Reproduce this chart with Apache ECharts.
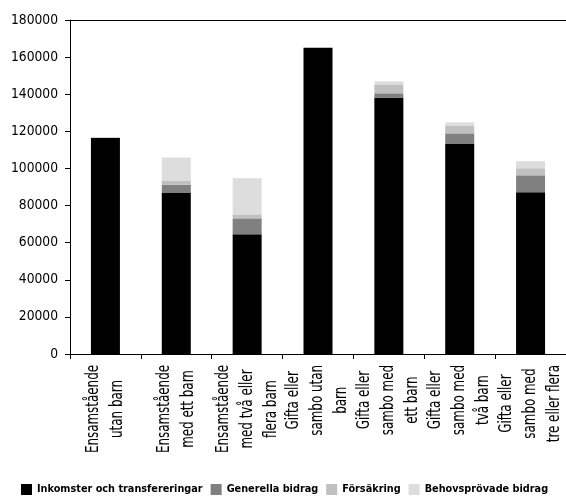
<!DOCTYPE html>
<html>
<head>
<meta charset="utf-8">
<style>
  html, body { margin: 0; padding: 0; background: #fff; }
  #chart { width: 566px; height: 500px; }
</style>
<script src="https://cdn.jsdelivr.net/npm/echarts@6/dist/echarts.min.js"></script>
</head>
<body>
<div id="chart"></div>
<script>
// Household groups (x axis), one line per array entry
const categories = [
  ['Ensamstående', 'utan barn'],
  ['Ensamstående', 'med ett barn'],
  ['Ensamstående', 'med två eller', 'flera barn'],
  ['Gifta eller', 'sambo utan', 'barn'],
  ['Gifta eller', 'sambo med', 'ett barn'],
  ['Gifta eller', 'sambo med', 'två barn'],
  ['Gifta eller', 'sambo med', 'tre eller flera']
];

// Stacked components, kronor per year
const inkomster   = [116500, 87000, 64500, 165000, 138000, 113400, 87200];
const generella   = [0,      4300,  8600,  0,      2500,   5500,   9100];
const forsakring  = [0,      2000,  2150,  0,      4800,   4300,   3800];
const behovsprov  = [400,    12600, 19400, 0,      1600,   1600,   3800];

const seriesNames = ['Inkomster och transfereringar', 'Generella bidrag', 'Försäkring', 'Behovsprövade bidrag'];
const seriesColors = ['#000000', '#808080', '#c0c0c0', '#dddddd'];

const yMin = 0, yMax = 180000, yStep = 20000;

// ---- font helpers ----
const measureCtx = document.createElement('canvas').getContext('2d');
function textWidth(text, font) {
  measureCtx.font = font;
  return measureCtx.measureText(text).width;
}
function hasFont(name) {
  const probe = 'Ensamstående 0123456789 Wwmm';
  return textWidth(probe, '40px "' + name + '", monospace') !== textWidth(probe, '40px monospace');
}
const candidates = ['Liberation Sans Narrow', 'DejaVu Sans Condensed', 'Noto Sans Condensed',
  'Roboto Condensed', 'Arial Narrow', 'Liberation Sans', 'Roboto'];
let FACE = 'sans-serif';
for (const c of candidates) { if (hasFont(c)) { FACE = '"' + c + '"'; break; } }

function fitSize(text, targetWidth, weight) {
  const w = textWidth(text, (weight || 'normal') + ' 20px ' + FACE);
  return Math.round(20 * targetWidth / w * 10) / 10;
}
const valFontSize = fitSize('180000', 47);
const legFontSize = fitSize('Inkomster och transfereringar', 166, 'bold');

// category labels: rotated, condensed along the reading direction
const CAT_SIZE = 17;
const CAT_LINE = 24;
const CAT_GAP = 11;                       // from the axis line to the top of a label block
const catFont = CAT_SIZE + 'px ' + FACE;
const catSqueeze = 88 / textWidth('Ensamstående', catFont);

const chart = echarts.init(document.getElementById('chart'), null, { renderer: 'canvas' });

const dataSets = [inkomster, generella, forsakring, behovsprov];
const series = dataSets.map((vals, i) => ({
  name: seriesNames[i],
  type: 'bar',
  stack: 'total',
  barWidth: 29,
  itemStyle: { color: seriesColors[i] },
  data: vals,
  animation: false
}));

// top border of the plot at the axis maximum
series[0].markLine = {
  silent: true,
  symbol: 'none',
  label: { show: false },
  lineStyle: { color: '#000', width: 1, type: 'solid' },
  data: [{ yAxis: yMax }]
};

// category labels, one text per line, centred within each block
series.push({
  type: 'custom',
  silent: true,
  clip: false,
  z: 5,
  data: categories.map((_, i) => [i, yMin]),
  encode: { x: 0, y: 1 },
  renderItem: function (params, api) {
    const idx = api.value(0);
    const lines = categories[idx];
    const p = api.coord([idx, yMin]);
    const blockLen = Math.max.apply(null, lines.map(l => textWidth(l, catFont))) * catSqueeze;
    const cy = p[1] + CAT_GAP + blockLen / 2;
    const n = lines.length;
    return {
      type: 'group',
      children: lines.map((line, k) => ({
        type: 'text',
        x: p[0] + (k - (n - 1) / 2) * CAT_LINE,
        y: cy,
        rotation: Math.PI / 2,
        scaleX: catSqueeze,
        style: {
          text: line,
          fontFamily: FACE,
          fontSize: CAT_SIZE,
          fill: '#000',
          align: 'center',
          verticalAlign: 'middle'
        }
      }))
    };
  }
});

chart.setOption({
  backgroundColor: '#fff',
  animation: false,
  grid: { left: 70, right: 0, top: 20, bottom: 146, containLabel: false, outerBoundsMode: 'none' },
  xAxis: {
    type: 'category',
    data: categories.map(lines => lines.join(' ')),
    axisLine: { lineStyle: { color: '#000', width: 1 } },
    axisTick: { show: true, interval: 0, alignWithLabel: false, length: 5, lineStyle: { color: '#000' } },
    axisLabel: { show: false, interval: 0 }
  },
  yAxis: {
    type: 'value',
    min: yMin,
    max: yMax,
    interval: yStep,
    axisLine: { show: true, lineStyle: { color: '#000', width: 1 } },
    axisTick: { show: true, length: 5, lineStyle: { color: '#000' } },
    splitLine: { show: false },
    axisLabel: {
      margin: 12,
      color: '#000',
      fontFamily: FACE,
      fontSize: valFontSize,
      formatter: v => String(v)
    }
  },
  legend: {
    bottom: 0,
    left: 16,
    itemWidth: 11,
    itemHeight: 11,
    itemGap: 8,
    icon: 'rect',
    textStyle: { color: '#000', fontFamily: FACE, fontWeight: 'bold', fontSize: legFontSize },
    data: seriesNames
  },
  series: series
});
</script>
</body>
</html>
